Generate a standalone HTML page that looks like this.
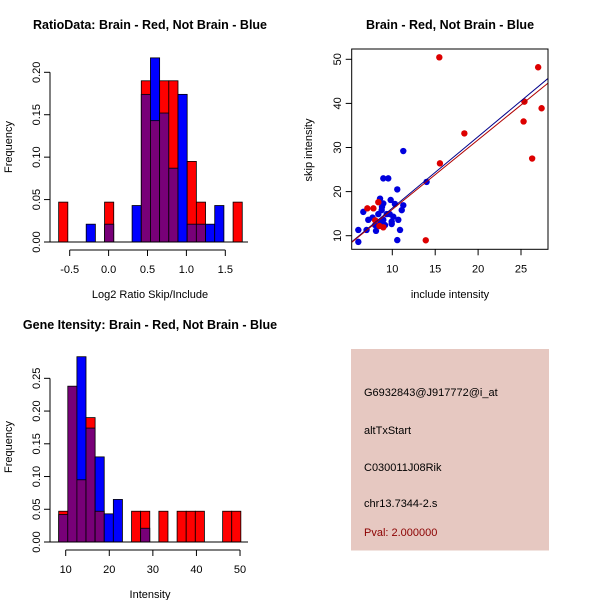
<!DOCTYPE html>
<html><head><meta charset="utf-8"><style>
html,body{margin:0;padding:0;background:#fff;}
svg text{font-family:"Liberation Sans",Arial,sans-serif;}
</style></head><body>
<svg id="c" width="600" height="600" xmlns="http://www.w3.org/2000/svg">
<rect width="600" height="600" fill="#fff"/>
<g id="g"></g>
</svg>
<script>
// ---- Data: ratio histogram (top-left), 20 common bins ----
const ratioBinStart = -0.642;
const ratioBinWidth = 0.118;
const ratioRed  = [0.047,0,0,0,0,0.047,0,0,0,0.190,0.143,0.190,0.190,0,0.095,0.047,0,0,0,0.047];
const ratioBlue = [0,0,0,0.021,0,0.021,0,0,0.043,0.174,0.217,0.152,0.087,0.174,0.021,0.021,0.021,0.043,0,0];
const ratioXTicks = [-0.5,0.0,0.5,1.0,1.5];
const ratioXTickLabels = ["-0.5","0.0","0.5","1.0","1.5"];
const ratioYTicks = [0,0.05,0.10,0.15,0.20];
const ratioYTickLabels = ["0.00","0.05","0.10","0.15","0.20"];
// ---- Data: intensity histogram (bottom-left) ----
const intBinStart = 8.39;
const intBinWidth = 2.09;
const intRed  = [0.047,0.238,0.095,0.190,0.047,0,0,0,0.047,0.047,0,0.047,0,0.047,0.047,0.047,0,0,0.047,0.047];
const intBlue = [0.042,0.238,0.283,0.174,0.130,0.043,0.065,0,0,0.021,0,0,0,0,0,0,0,0,0,0];
const intXTicks = [10,20,30,40,50];
const intXTickLabels = ["10","20","30","40","50"];
const intYTicks = [0,0.05,0.10,0.15,0.20,0.25];
const intYTickLabels = ["0.00","0.05","0.10","0.15","0.20","0.25"];
// ---- Data: scatter (top-right) ----
const redX = [15.48,27.0,25.4,27.4,25.3,18.4,26.3,15.55,13.9,7.09,7.8,8.37,8.0,8.95,8.5];
const redY = [50.45,48.2,40.4,38.9,35.9,33.2,27.5,26.4,8.96,16.2,16.2,17.6,13.5,11.9,12.2];
const blueX = [11.28,8.95,9.53,10.58,8.57,9.81,8.95,10.3,11.28,6.62,8.76,8.37,9.35,11.1,10.12,7.2,8.95,9.93,10.7,8.0,9.15,9.93,7.0,8.1,6.04,10.9,6.04,10.58,14.0,8.8,9.7,7.7,8.6];
const blueY = [29.2,23.0,23.0,20.5,18.4,18.1,17.3,17.2,16.9,15.4,15.8,14.9,14.9,15.8,14.3,13.6,13.6,13.2,13.6,12.4,12.4,12.65,11.3,11.1,11.3,11.3,8.6,9.0,22.2,16.5,14.9,14.1,13.2];
const blueFit = [0.06,1.62];   // intercept, slope
const redFit = [0.18,1.578];
const scXTicks = [10,15,20,25];
const scXTickLabels = ["10","15","20","25"];
const scYTicks = [10,20,30,40,50];
const scYTickLabels = ["10","20","30","40","50"];

const NS="http://www.w3.org/2000/svg";
const G=document.getElementById('g');
function el(tag,attrs,parent){const e=document.createElementNS(NS,tag);for(const k in attrs)e.setAttribute(k,attrs[k]);(parent||G).appendChild(e);return e;}
function txt(s,attrs,parent){const t=el('text',attrs,parent);t.textContent=s;return t;}
const PURPLE="#780078";

function histogram(name,red,blue,binStart,binW,xs,ys,xTicks,xLabs,yTicks,yLabs,axisY,xLab,xLabY,yLabCY,title,titleX,titleY){
  const g=el('g',{});
  
  
  for(let i=0;i<red.length;i++){
    const x0=xs(binStart+i*binW), x1=xs(binStart+(i+1)*binW);
    const r=red[i], b=blue[i], lo=Math.min(r,b), hi=Math.max(r,b);
    if(hi<=0) continue;
    if(hi>lo){
      const rb=el('rect',{x:x0,y:ys(hi),width:x1-x0,height:ys(0)-ys(hi),fill:r>b?'#ff0000':'#0000ff',stroke:'#000','stroke-width':0.8},g);
      
      
    }
    if(lo>0){
      const pb=el('rect',{x:x0,y:ys(lo),width:x1-x0,height:ys(0)-ys(lo),fill:PURPLE,stroke:'#000','stroke-width':0.8},g);
      
      
    }
  }
  el('line',{x1:50,x2:248,y1:ys(0),y2:ys(0),stroke:'#000'},g);
  const ya=el('g',{},g);
  
  
  el('line',{x1:50,x2:50,y1:ys(yTicks[0]),y2:ys(yTicks[yTicks.length-1]),stroke:'#000'},ya);
  yTicks.forEach((v,i)=>{const y=ys(v);el('line',{x1:44,x2:50,y1:y,y2:y,stroke:'#000'},ya);
    txt(yLabs[i],{x:0,y:0,transform:`translate(40,${y}) rotate(-90)`,'text-anchor':'middle','font-size':11},ya);});
  const xa=el('g',{},g);
  
  
  el('line',{x1:xs(xTicks[0]),x2:xs(xTicks[xTicks.length-1]),y1:axisY,y2:axisY,stroke:'#000'},xa);
  xTicks.forEach((v,i)=>{const x=xs(v);el('line',{x1:x,x2:x,y1:axisY,y2:axisY+6,stroke:'#000'},xa);
    txt(xLabs[i],{x:x,y:axisY+23,'text-anchor':'middle','font-size':11},xa);});
  const xt=txt(xLab,{x:150,y:xLabY,'text-anchor':'middle','font-size':11},g);
  
  const yt=txt('Frequency',{x:0,y:0,transform:`translate(12,${yLabCY}) rotate(-90)`,'text-anchor':'middle','font-size':11},g);
  
  const tt=txt(title,{x:titleX,y:titleY,'text-anchor':'middle','font-size':12.5,'font-weight':'bold'},g);
  
}

const rxs=v=>69.7+(v+0.5)*77.8, rys=v=>242-v*848.5;
histogram('ratio-histogram',ratioRed,ratioBlue,ratioBinStart,ratioBinWidth,rxs,rys,ratioXTicks,ratioXTickLabels,ratioYTicks,ratioYTickLabels,250,'Log2 Ratio Skip/Include',298,147,'RatioData: Brain - Red, Not Brain - Blue',150,29);
const ixs=v=>65.7+(v-10)*4.358, iys=v=>542-v*654.7;
histogram('intensity-histogram',intRed,intBlue,intBinStart,intBinWidth,ixs,iys,intXTicks,intXTickLabels,intYTicks,intYTickLabels,550,'Intensity',598,447,'Gene Itensity: Brain - Red, Not Brain - Blue',150,329);

const sg=el('g',{});


const sxs=v=>392.3+(v-10)*8.58, sys=v=>235.7-(v-10)*4.41;
const L=351.7,R=548,T=49,B=249.3;
const cp=el('clipPath',{id:'clp'},sg);
el('rect',{x:L,y:T,width:R-L,height:B-T},cp);
const pts=el('g',{'clip-path':'url(#clp)'},sg);
blueX.forEach((x,i)=>{const c=el('circle',{cx:sxs(x),cy:sys(blueY[i]),r:3.2,fill:'#0000dd'},pts);
  });
redX.forEach((x,i)=>{const c=el('circle',{cx:sxs(x),cy:sys(redY[i]),r:3.2,fill:'#dd0000'},pts);
  });
const xmin=5.27,xmax=28.15;
const bl=el('line',{x1:sxs(xmin),y1:sys(blueFit[0]+blueFit[1]*xmin),x2:sxs(xmax),y2:sys(blueFit[0]+blueFit[1]*xmax),stroke:'#00008b','stroke-width':1},pts);

const rl=el('line',{x1:sxs(xmin),y1:sys(redFit[0]+redFit[1]*xmin),x2:sxs(xmax),y2:sys(redFit[0]+redFit[1]*xmax),stroke:'#b00000','stroke-width':1},pts);

el('rect',{x:L,y:T,width:R-L,height:B-T,fill:'none',stroke:'#000'},sg);
scXTicks.forEach((v,i)=>{const x=sxs(v);el('line',{x1:x,x2:x,y1:B,y2:B+6,stroke:'#000'},sg);
  txt(scXTickLabels[i],{x:x,y:B+23,'text-anchor':'middle','font-size':11},sg);});
scYTicks.forEach((v,i)=>{const y=sys(v);el('line',{x1:L-6,x2:L,y1:y,y2:y,stroke:'#000'},sg);
  txt(scYTickLabels[i],{x:0,y:0,transform:`translate(341,${y}) rotate(-90)`,'text-anchor':'middle','font-size':11},sg);});
const sxt=txt('include intensity',{x:450,y:298,'text-anchor':'middle','font-size':11},sg);

const syt=txt('skip intensity',{x:0,y:0,transform:'translate(312,150) rotate(-90)','text-anchor':'middle','font-size':11},sg);

const stt=txt('Brain - Red, Not Brain - Blue',{x:450,y:29,'text-anchor':'middle','font-size':12.5,'font-weight':'bold'},sg);


const ip=el('g',{});


el('rect',{x:351,y:349,width:198,height:201.5,fill:'#e6c8c1'},ip);
const lines=[['G6932843@J917772@i_at',396,'#000','probe-id'],['altTxStart',434,'#000','event-type'],['C030011J08Rik',471,'#000','gene-name'],['chr13.7344-2.s',507,'#000','location'],['Pval: 2.000000',536,'#8b0000','p-value']];
lines.forEach(l=>{const t=txt(l[0],{x:364,y:l[1],'font-size':11,fill:l[2]},ip);
  });
</script>
</body></html>
